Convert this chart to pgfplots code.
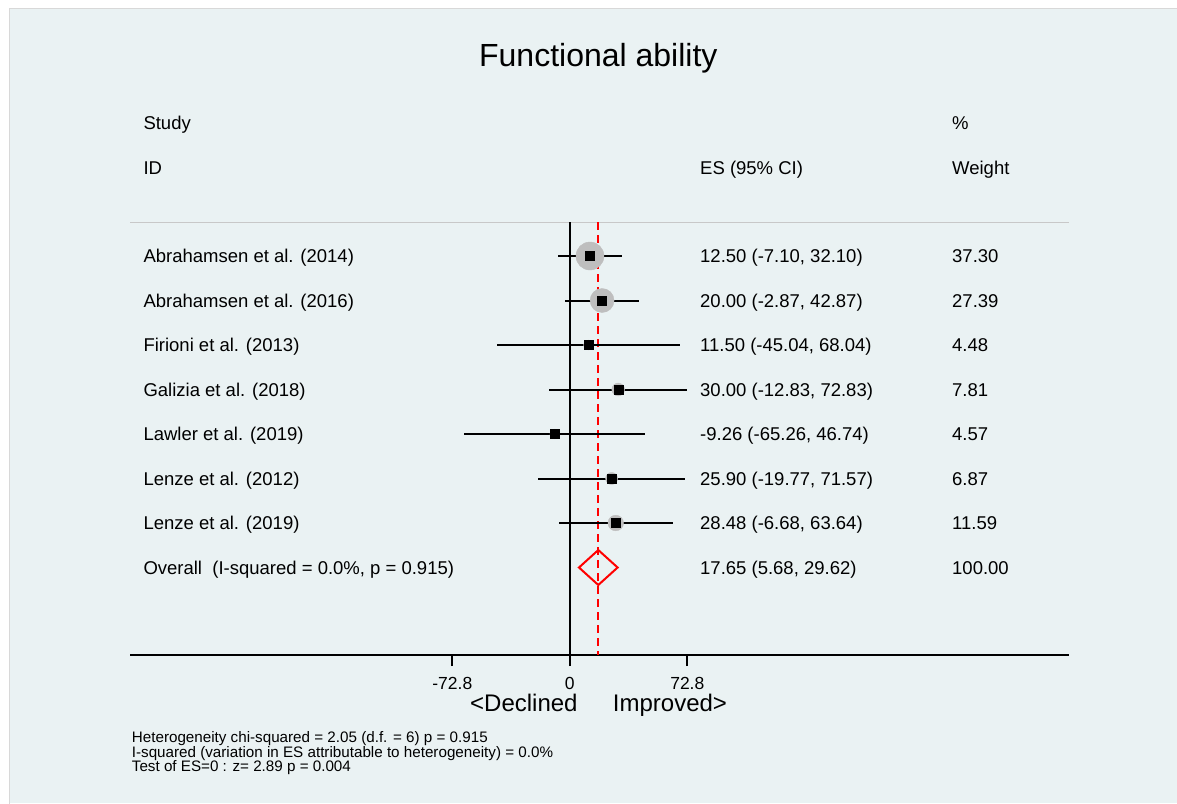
\documentclass[border=0pt]{standalone}
\usepackage{pgfplots}
\pgfplotsset{compat=1.18}
\usepackage{pgfplotstable}
\usepackage{fontspec}
\setmainfont{Liberation Sans}
\definecolor{bg}{RGB}{234,242,243}
\definecolor{circgray}{RGB}{190,190,190}
\definecolor{linegray}{RGB}{200,200,200}
\definecolor{esred}{RGB}{255,0,0}

\pgfplotstableread{
row es lo hi w
-1 12.50 -7.10 32.10 37.30
-2 20.00 -2.87 42.87 27.39
-3 11.50 -45.04 68.04 4.48
-4 30.00 -12.83 72.83 7.81
-5 -9.26 -65.26 46.74 4.57
-6 25.90 -19.77 71.57 6.87
-7 28.48 -6.68 63.64 11.59
}\studies

\newcommand{\bodyfont}{\fontsize{18.5}{22}\selectfont}

\begin{document}
\begin{tikzpicture}
\begin{scope}[x=1pt,y=-1pt,shift={(-130pt,655pt)}]
  \useasboundingbox (0,0) rectangle (1177,803);
  \fill[white] (0,0) rectangle (1177,803);
  \fill[bg] (9,8) rectangle (1177,803);
  \draw[linegray!70, line width=0.6pt] (1180,8.3) -- (9.3,8.3) -- (9.3,806);
\end{scope}

\begin{axis}[
  at={(0pt,0pt)}, anchor=south west,
  scale only axis, width=939.3pt, height=432.7pt,
  xmin=-272.49, xmax=309.48, ymin=-9.966, ymax=-0.2427,
  axis y line=none, axis x line=bottom,
  x axis line style={-, line width=2pt, black},
  xtick={-72.8,0,72.8}, xticklabels={-72.8,0,72.8},
  tick align=outside, major tick length=11pt,
  x tick style={line width=2pt, black},
  xticklabel style={font=\fontsize{17.5}{20}\selectfont, text=black, anchor=north, yshift=-7.5pt},
  clip=false,
]
  % top separator
  \draw[linegray, line width=1pt] (rel axis cs:0,1) -- (rel axis cs:1,1);
  % weight circles
  \addplot[scatter, only marks, mark=*,
    scatter/use mapped color={draw=circgray, fill=circgray},
    visualization depends on={2.2923*sqrt(\thisrow{w}) \as \rad},
    scatter/@pre marker code/.append style={/tikz/mark size=\rad}]
    table[x=es, y=row] {\studies};
  % null line
  \addplot[black, line width=2pt] coordinates {(0,-0.2427) (0,-9.966)};
  % overall effect line
  \addplot[esred, line width=2pt, dash pattern=on 8pt off 5pt] coordinates {(17.65,-0.2427) (17.65,-9.966)};
  % confidence intervals
  \addplot[only marks, mark=square*, mark size=4.5pt, black,
    error bars/.cd, x dir=both, x explicit, error mark=none,
    error bar style={line width=2pt, black}]
    table[x=es, y=row,
      x error plus expr=\thisrow{hi}-\thisrow{es},
      x error minus expr=\thisrow{es}-\thisrow{lo}] {\studies};
  % point estimates
  \addplot[only marks, mark=square*, mark size=4.5pt, black] table[x=es, y=row] {\studies};
  % overall diamond
  \addplot[esred, line width=2pt, line join=miter] coordinates {(5.68,-8) (17.65,-7.607) (29.62,-8) (17.65,-8.393)} -- cycle;
\end{axis}

\begin{scope}[x=1pt,y=-1pt,shift={(-130pt,655pt)}, every node/.style={inner sep=0pt, text=black}]
  \node[anchor=base] at (598.3,66.7) {\fontsize{32}{36}\selectfont Functional ability};
  \begin{scope}[every node/.append style={anchor=base west, font=\bodyfont}]
    \node at (143.3,129.5) {Study};
    \node at (143.3,174.5) {ID};
    \node at (700,174.5) {ES (95\% CI)};
    \node at (952,129.5) {\%};
    \node at (952,174.5) {Weight};
    \node at (143.3,262.7) {Abrahamsen et al. (2014)};
    \node at (143.3,307.2) {Abrahamsen et al. (2016)};
    \node at (143.3,351.7) {Firioni et al. (2013)};
    \node at (143.3,396.2) {Galizia et al. (2018)};
    \node at (143.3,440.7) {Lawler et al. (2019)};
    \node at (143.3,485.2) {Lenze et al. (2012)};
    \node at (143.3,529.7) {Lenze et al. (2019)};
    \node at (143.3,574.2) {Overall\ \ (I-squared = 0.0\%, p = 0.915)};
    \node at (700,262.7) {12.50 (-7.10, 32.10)};
    \node at (700,307.2) {20.00 (-2.87, 42.87)};
    \node at (700,351.7) {11.50 (-45.04, 68.04)};
    \node at (700,396.2) {30.00 (-12.83, 72.83)};
    \node at (700,440.7) {-9.26 (-65.26, 46.74)};
    \node at (700,485.2) {25.90 (-19.77, 71.57)};
    \node at (700,529.7) {28.48 (-6.68, 63.64)};
    \node at (700,574.2) {17.65 (5.68, 29.62)};
    \node at (952,262.7) {37.30};
    \node at (952,307.2) {27.39};
    \node at (952,351.7) {4.48};
    \node at (952,396.2) {7.81};
    \node at (952,440.7) {4.57};
    \node at (952,485.2) {6.87};
    \node at (952,529.7) {11.59};
    \node at (952,574.2) {100.00};
  \end{scope}
  \node[anchor=base west] at (470,711.7) {\fontsize{24}{28}\selectfont <Declined};
  \node[anchor=base west] at (612.7,711.7) {\fontsize{24}{28}\selectfont Improved>};
  \node[anchor=base west, align=left, font=\fontsize{15.2}{14.5}\selectfont] at (131.7,771.5) {Heterogeneity chi-squared = 2.05 (d.f. = 6) p = 0.915\\I-squared (variation in ES attributable to heterogeneity) = 0.0\%\\Test of ES=0 : z= 2.89 p = 0.004};
\end{scope}
\end{tikzpicture}
\end{document}
